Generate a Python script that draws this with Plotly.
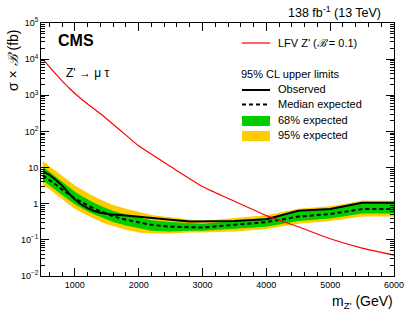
import plotly.graph_objects as go

# ---- data ----
mass = [500, 600, 700, 800, 900, 1000, 1100, 1200, 1300, 1400, 1500, 1600, 1800,
        2000, 2200, 2500, 2800, 3000, 3500, 4000, 4500, 5000, 5500, 6000]
observed = [8.0, 6.3, 4.6, 3.2, 2.0, 1.3, 0.95, 0.75, 0.63, 0.56, 0.53, 0.50, 0.47,
            0.44, 0.41, 0.36, 0.32, 0.32, 0.33, 0.37, 0.64, 0.71, 1.07, 1.07]
expected = [6.0, 4.6, 3.4, 2.5, 1.85, 1.4, 1.12, 0.9, 0.74, 0.62, 0.52, 0.45, 0.36,
            0.30, 0.26, 0.23, 0.22, 0.22, 0.26, 0.31, 0.44, 0.52, 0.71, 0.71]
exp68_hi = [10.5, 7.6, 5.5, 4.0, 2.9, 2.15, 1.65, 1.3, 1.06, 0.88, 0.74, 0.63, 0.50,
            0.41, 0.35, 0.31, 0.29, 0.28, 0.34, 0.40, 0.60, 0.70, 1.02, 1.02]
exp68_lo = [4.4, 3.3, 2.4, 1.75, 1.28, 0.96, 0.77, 0.62, 0.51, 0.43, 0.36, 0.31, 0.25,
            0.21, 0.18, 0.17, 0.18, 0.18, 0.20, 0.23, 0.33, 0.39, 0.54, 0.54]
exp95_hi = [15.0, 11.0, 8.0, 5.9, 4.3, 3.2, 2.5, 1.95, 1.58, 1.3, 1.08, 0.92, 0.72,
            0.58, 0.49, 0.42, 0.36, 0.33, 0.40, 0.48, 0.72, 0.85, 1.2, 1.2]
exp95_lo = [3.3, 2.5, 1.85, 1.35, 0.98, 0.73, 0.58, 0.47, 0.38, 0.32, 0.27, 0.24, 0.19,
            0.16, 0.15, 0.15, 0.16, 0.16, 0.17, 0.20, 0.28, 0.33, 0.44, 0.44]

theory_mass = [500, 600, 700, 800, 900, 1000, 1200, 1400, 1600, 1800, 2000, 2500,
               3000, 3500, 4000, 4500, 5000, 5500, 6000]
theory_xsec = [10000, 6170, 3890, 2510, 1660, 1120, 575, 309, 158, 79, 40, 10.7,
               3.0, 1.17, 0.47, 0.23, 0.107, 0.059, 0.038]

y_tickvals = [0.01, 0.1, 1, 10, 100, 1000, 10000, 100000]
y_ticktext = ["10<sup>\u22122</sup>", "10<sup>\u22121</sup>", "1", "10",
              "10<sup>2</sup>", "10<sup>3</sup>", "10<sup>4</sup>", "10<sup>5</sup>"]
x_tickvals = [1000, 2000, 3000, 4000, 5000, 6000]

GREEN = "#00CC00"
YELLOW = "#FFCC00"
RED = "#FF0000"
FONT = "Liberation Sans, Arial, sans-serif"

W, H = 407, 318
L, R, T, B = 41, 13, 23, 42
PW, PH = W - L - R, H - T - B


def px(x):
    return (x - L) / PW


def py(y):
    return 1 - (y - T) / PH


y_minor = [m * 10.0 ** e for e in range(-2, 5) for m in range(2, 10)]
x_minor = list(range(600, 6001, 200))

fig = go.Figure()
fig.add_trace(go.Scatter(x=mass + mass[::-1], y=exp95_hi + exp95_lo[::-1],
                         fill="toself", fillcolor=YELLOW, line=dict(width=0),
                         mode="lines", hoverinfo="skip", showlegend=False))
fig.add_trace(go.Scatter(x=mass + mass[::-1], y=exp68_hi + exp68_lo[::-1],
                         fill="toself", fillcolor=GREEN, line=dict(width=0),
                         mode="lines", hoverinfo="skip", showlegend=False))
fig.add_trace(go.Scatter(x=mass, y=expected, mode="lines",
                         line=dict(color="black", width=2, dash="4px,3px"),
                         showlegend=False))
fig.add_trace(go.Scatter(x=mass, y=observed, mode="lines",
                         line=dict(color="black", width=2), showlegend=False))
fig.add_trace(go.Scatter(x=theory_mass, y=theory_xsec, mode="lines",
                         line=dict(color=RED, width=1.2, shape="spline", smoothing=0.6),
                         showlegend=False))

axis_common = dict(showline=True, linecolor="black", linewidth=1, mirror="allticks",
                   ticks="inside", ticklen=8, tickcolor="black", showgrid=False,
                   zeroline=False, automargin=False,
                   tickfont=dict(family=FONT, size=9, color="black"))

fig.update_xaxes(range=[470, 6000], tickvals=x_tickvals,
                 minor=dict(ticks="inside", ticklen=4, tickvals=x_minor,
                            tickcolor="black", showgrid=False),
                 **axis_common)
fig.update_yaxes(type="log", range=[-2, 5], tickvals=y_tickvals, ticktext=y_ticktext,
                 minor=dict(ticks="inside", ticklen=4, tickvals=y_minor,
                            tickcolor="black", showgrid=False),
                 **axis_common)


def text(x, y, s, size, xanchor="left", **kw):
    return dict(x=px(x), y=py(y), xref="paper", yref="paper", text=s, showarrow=False,
                xanchor=xanchor, yanchor="middle", font=dict(family=FONT, size=size,
                                                              color="black"), **kw)


def hline(x0, x1, y, **line):
    return dict(type="line", xref="paper", yref="paper", x0=px(x0), x1=px(x1),
                y0=py(y), y1=py(y), line=line)


def box(x0, x1, y0, y1, color):
    return dict(type="rect", xref="paper", yref="paper", x0=px(x0), x1=px(x1),
                y0=py(y0), y1=py(y1), fillcolor=color, line=dict(width=0))


ann = [
    text(383, 12, "138 fb<sup>-1</sup> (13 TeV)", 12.5, xanchor="right"),
    text(56, 40, "<b>CMS</b>", 16),
    text(64, 73, "Z' \u2192 \u03bc \u03c4", 12),
    text(13, 60, "\u03c3 \u00d7 <i>\u212c</i> (fb)", 14, xanchor="center", textangle=-90),
    text(395, 302, "m<sub>Z'</sub> (GeV)", 14, xanchor="right"),
    text(276, 43, "LFV Z' (<i>\u212c</i> = 0.1)", 11),
    text(239, 74, "95% CL upper limits", 11),
    text(276, 89, "Observed", 11),
    text(276, 104, "Median expected", 11),
    text(276, 120, "68% expected", 11),
    text(276, 135, "95% expected", 11),
]
shapes = [
    hline(242, 270, 43, color=RED, width=1.2),
    hline(242, 270, 90, color="black", width=2),
    hline(242, 270, 104.5, color="black", width=2, dash="4px,3px"),
    box(242, 270, 116, 126, GREEN),
    box(242, 270, 131, 141, YELLOW),
]

fig.update_layout(width=W, height=H, margin=dict(l=L, r=R, t=T, b=B, autoexpand=False),
                  paper_bgcolor="white", plot_bgcolor="white",
                  annotations=ann, shapes=shapes, showlegend=False,
                  font=dict(family=FONT, color="black"))

fig.write_html("out.html", config={"displayModeBar": False},
               post_script="document.body.style.margin='0px';"
                           "document.body.style.overflow='hidden';")
